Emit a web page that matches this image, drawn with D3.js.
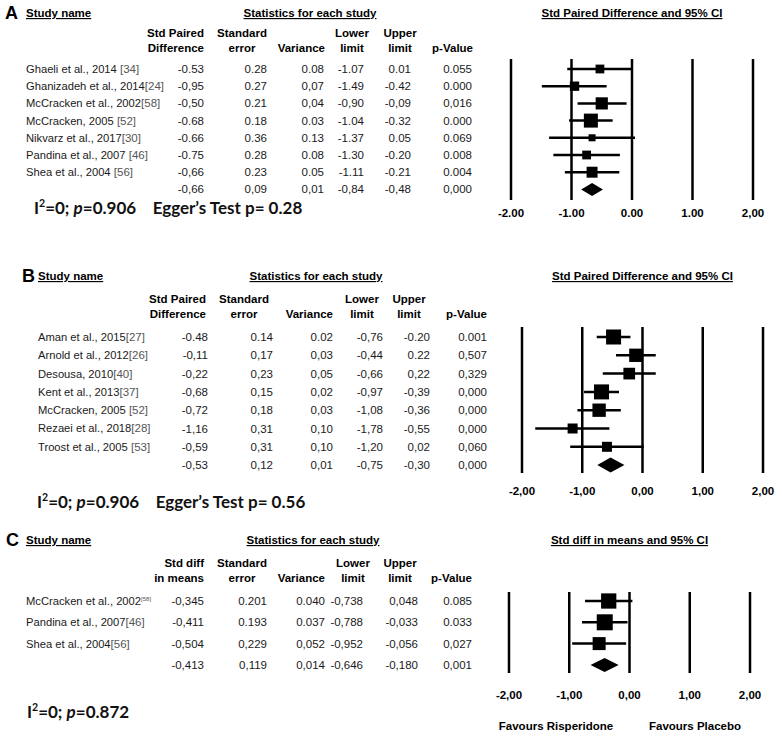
<!DOCTYPE html>
<html>
<head>
<meta charset="utf-8">
<script src="https://cdn.jsdelivr.net/npm/d3@7"></script>
<style>
  body { margin: 0; background: #fff; }
  text { font-family: "Liberation Sans", Arial, sans-serif; }
  .note { font-family: Lato, "Open Sans", sans-serif; font-weight: 700; white-space: pre; }
</style>
</head>
<body>
<div id="chart"></div>
<script>
var tickValues = [-2, -1, 0, 1, 2];
var ticksA = ['-2.00', '-1.00', '0.00', '1.00', '2,00'];
var ticksB = ['-2,00', '-1,00', '0,00', '1,00', '2,00'];
var ticksC = ['-2,00', '-1,00', '0,00', '1,00', '2,00'];

var headA = [['Std Paired', 'Difference'], ['Standard', 'error'], ['', 'Variance'], ['Lower', 'limit'], ['Upper', 'limit'], ['', 'p-Value']];
var headB = headA;
var headC = [['Std diff', 'in means'], ['Standard', 'error'], ['', 'Variance'], ['Lower', 'limit'], ['Upper', 'limit'], ['', 'p-Value']];

var studiesA = ['Ghaeli et al., 2014', 'Ghanizadeh et al., 2014', 'McCracken et al., 2002', 'McCracken, 2005', 'Nikvarz et al., 2017', 'Pandina et al., 2007', 'Shea et al., 2004'];
var refsA = [' [34]', '[24]', '[58]', ' [52]', '[30]', ' [46]', ' [56]'];
// effect, std error, variance, lower, upper, p  (last row = pooled)
var statsA = [
  ['-0.53', '0.28', '0.08', '-1.07', '0.01', '0.055'],
  ['-0,95', '0.27', '0,07', '-1.49', '-0.42', '0.000'],
  ['-0,50', '0.21', '0,04', '-0,90', '-0,09', '0,016'],
  ['-0.68', '0.18', '0.03', '-1.04', '-0.32', '0.000'],
  ['-0.66', '0.36', '0.13', '-1.37', '0.05', '0.069'],
  ['-0.75', '0.28', '0.08', '-1.30', '-0.20', '0.008'],
  ['-0,66', '0.23', '0.05', '-1.11', '-0.21', '0.004'],
  ['-0,66', '0,09', '0,01', '-0,84', '-0,48', '0,000']
];

var studiesB = ['Aman et al., 2015', 'Arnold et al., 2012', 'Desousa, 2010', 'Kent et al., 2013', 'McCracken, 2005', 'Rezaei et al., 2018', 'Troost et al., 2005'];
var refsB = ['[27]', '[26]', '[40]', '[37]', ' [52]', '[28]', ' [53]'];
var statsB = [
  ['-0.48', '0.14', '0.02', '-0,76', '-0.20', '0.001'],
  ['-0,11', '0,17', '0,03', '-0,44', '0.22', '0,507'],
  ['-0,22', '0,23', '0,05', '-0,66', '0,22', '0,329'],
  ['-0,68', '0,15', '0,02', '-0,97', '-0,39', '0,000'],
  ['-0,72', '0,18', '0,03', '-1,08', '-0,36', '0,000'],
  ['-1,16', '0,31', '0,10', '-1,78', '-0,55', '0,000'],
  ['-0,59', '0,31', '0,10', '-1,20', '0,02', '0,060'],
  ['-0,53', '0,12', '0,01', '-0,75', '-0,30', '0,000']
];

var studiesC = ['McCracken et al., 2002', 'Pandina et al., 2007', 'Shea et al., 2004'];
var refsC = ['[58]', '[46]', '[56]'];
var statsC = [
  ['-0,345', '0.201', '0.040', '-0,738', '0,048', '0.085'],
  ['-0,411', '0.193', '0.037', '-0,788', '-0,033', '0.033'],
  ['-0,504', '0,229', '0,052', '-0,952', '-0,056', '0,027'],
  ['-0,413', '0,119', '0,014', '-0,646', '-0,180', '0,001']
];

var hetP = ['0.906', '0.906', '0.872'];
var eggerP = ['0.28', '0.56', null];
var favours = ['Favours Risperidone', 'Favours Placebo'];

function num(s){ return +s.replace(',', '.'); }

var panels = [
  {letter: 'A', studies: studiesA, refs: refsA, stats: statsA, head: headA, ticks: ticksA,
   plotTitle: 'Std Paired Difference and 95% CI', het: hetP[0], egger: eggerP[0],
   letterX: 5, nameX: 26, titleY: 13, statsX: 310, headY: 33, rowY: 69, rowStep: 17.2,
   colX: [204, 267, 324, 364, 411, 472], headX: [204, 242, 325, 352, 400, 473],
   range: [511, 753], lineTop: 59, lineBottom: 200, tickY: 213, box: [7, 14], dia: 6.5,
   noteX: 34, noteY: 208, supRef: -1},
  {letter: 'B', studies: studiesB, refs: refsB, stats: statsB, head: headB, ticks: ticksB,
   plotTitle: 'Std Paired Difference and 95% CI', het: hetP[1], egger: eggerP[1],
   letterX: 22, nameX: 38, titleY: 276, statsX: 316, headY: 299, rowY: 337, rowStep: 18.3,
   colX: [208, 273, 333, 383, 430, 487], headX: [206, 244, 333, 362, 409, 487],
   range: [522, 763], lineTop: 327, lineBottom: 473, tickY: 491, box: [10, 15], dia: 7.5,
   noteX: 37, noteY: 502, supRef: -1},
  {letter: 'C', studies: studiesC, refs: refsC, stats: statsC, head: headC, ticks: ticksC,
   plotTitle: 'Std diff in means and 95% CI', het: hetP[2], egger: eggerP[2],
   letterX: 6, nameX: 26, titleY: 540, statsX: 313, headY: 563, rowY: 601, rowStep: 21.3,
   colX: [204, 267, 325, 363, 418, 472], headX: [204, 242, 325, 353, 400, 472],
   range: [509, 750], lineTop: 592, lineBottom: 673, tickY: 695, box: [13, 16], dia: 7,
   noteX: 27, noteY: 712, supRef: 0, favY: 726, favX: [556, 695]}
];

var svg = d3.select('#chart').append('svg')
  .attr('width', 783)
  .attr('height', 744);

var headAnchor = ['end', 'middle', 'end', 'middle', 'middle', 'end'];

panels.forEach(function(p){
  var g = svg.append('g');
  var x = d3.scaleLinear().domain([-2, 2]).range(p.range);
  var plotMid = x(0);

  g.append('text').attr('x', p.letterX).attr('y', p.titleY).attr('dy', '0.35em')
    .attr('font-size', 18).attr('font-weight', 'bold').text(p.letter);

  g.append('text').attr('x', p.nameX).attr('y', p.titleY).attr('dy', '0.35em')
    .attr('font-size', 11.5).attr('font-weight', 'bold')
    .style('text-decoration', 'underline').text('Study name');
  g.append('text').attr('x', p.statsX).attr('y', p.titleY).attr('dy', '0.35em')
    .attr('font-size', 11.5).attr('font-weight', 'bold').attr('text-anchor', 'middle')
    .style('text-decoration', 'underline').text('Statistics for each study');
  g.append('text').attr('x', plotMid).attr('y', p.titleY).attr('dy', '0.35em')
    .attr('font-size', 11.5).attr('font-weight', 'bold').attr('text-anchor', 'middle')
    .style('text-decoration', 'underline').text(p.plotTitle);

  // column headers
  p.head.forEach(function(h, i){
    h.forEach(function(line, j){
      if (!line) return;
      g.append('text').attr('x', p.headX[i]).attr('y', p.headY + j * 15).attr('dy', '0.35em')
        .attr('font-size', 11.5).attr('font-weight', 'bold').attr('text-anchor', headAnchor[i])
        .text(line);
    });
  });

  // study names
  var names = g.selectAll('text.name').data(p.studies).enter()
    .append('text').classed('name', true)
    .attr('x', p.nameX)
    .attr('y', function(d, i){ return p.rowY + i * p.rowStep; })
    .attr('dy', '0.35em')
    .attr('font-size', 11.2).attr('fill', '#1a1a1a')
    .style('white-space', 'pre');
  names.append('tspan').text(function(d){ return d; });
  names.append('tspan')
    .attr('fill', '#555')
    .attr('font-size', function(d, i){ return i === p.supRef ? 6 : 11.5; })
    .attr('baseline-shift', function(d, i){ return i === p.supRef ? '4' : null; })
    .text(function(d, i){ return p.refs[i]; });

  // stats table
  p.stats.forEach(function(row, i){
    g.selectAll(null).data(row).enter()
      .append('text')
      .attr('x', function(d, j){ return p.colX[j]; })
      .attr('y', p.rowY + i * p.rowStep)
      .attr('dy', '0.35em')
      .attr('font-size', 11.5).attr('fill', '#1a1a1a')
      .attr('text-anchor', 'end')
      .text(function(d){ return d; });
  });

  // forest plot grid lines
  g.selectAll('line.grid').data(tickValues).enter()
    .append('line').classed('grid', true)
    .attr('x1', function(d){ return x(d); }).attr('x2', function(d){ return x(d); })
    .attr('y1', p.lineTop).attr('y2', p.lineBottom)
    .attr('stroke', '#000').attr('stroke-width', 2.5);

  g.selectAll('text.tick').data(tickValues).enter()
    .append('text').classed('tick', true)
    .attr('x', function(d){ return x(d); })
    .attr('y', p.tickY).attr('dy', '0.35em')
    .attr('font-size', 11.5).attr('font-weight', 'bold').attr('text-anchor', 'middle')
    .text(function(d, i){ return p.ticks[i]; });

  var studyRows = p.stats.slice(0, p.stats.length - 1);
  var pooled = p.stats[p.stats.length - 1];
  var weights = studyRows.map(function(r){ return 1 / num(r[2]); });
  var size = d3.scalePow().exponent(0.5).domain(d3.extent(weights)).range(p.box);

  g.selectAll('line.ci').data(studyRows).enter()
    .append('line').classed('ci', true)
    .attr('x1', function(d){ return x(num(d[3])); })
    .attr('x2', function(d){ return x(num(d[4])); })
    .attr('y1', function(d, i){ return p.rowY + i * p.rowStep; })
    .attr('y2', function(d, i){ return p.rowY + i * p.rowStep; })
    .attr('stroke', '#000').attr('stroke-width', 2.5);

  g.selectAll('rect.box').data(studyRows).enter()
    .append('rect').classed('box', true)
    .attr('x', function(d, i){ return x(num(d[0])) - size(weights[i]) / 2; })
    .attr('y', function(d, i){ return p.rowY + i * p.rowStep - size(weights[i]) / 2; })
    .attr('width', function(d, i){ return size(weights[i]); })
    .attr('height', function(d, i){ return size(weights[i]); })
    .attr('fill', '#000');

  var py = p.rowY + studyRows.length * p.rowStep;
  g.append('path')
    .attr('d', 'M' + x(num(pooled[3])) + ',' + py +
      'L' + x(num(pooled[0])) + ',' + (py - p.dia) +
      'L' + x(num(pooled[4])) + ',' + py +
      'L' + x(num(pooled[0])) + ',' + (py + p.dia) + 'Z')
    .attr('fill', '#000');

  // heterogeneity note
  var note = g.append('text').classed('note', true)
    .attr('x', p.noteX).attr('y', p.noteY).attr('dy', '0.35em')
    .attr('font-size', 17).attr('fill', '#111');
  note.append('tspan').text('I');
  note.append('tspan').attr('font-size', 10.5).attr('baseline-shift', '7').text('2');
  note.append('tspan').text('=0; ');
  note.append('tspan').attr('font-style', 'italic').text('p');
  note.append('tspan').text('=' + p.het);
  if (p.egger) note.append('tspan').text('    Egger\u2019s Test p= ' + p.egger);

  if (p.favY) {
    g.selectAll('text.fav').data(favours).enter()
      .append('text').classed('fav', true)
      .attr('x', function(d, i){ return p.favX[i]; })
      .attr('y', p.favY).attr('dy', '0.35em')
      .attr('font-size', 11.5).attr('font-weight', 'bold').attr('text-anchor', 'middle')
      .text(function(d){ return d; });
  }
});
</script>
</body>
</html>
